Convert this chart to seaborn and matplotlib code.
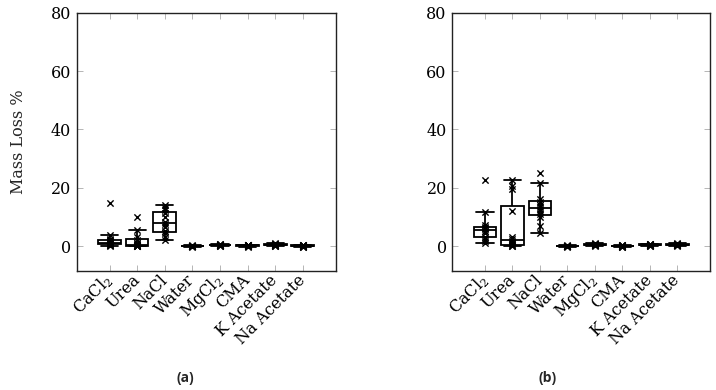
import numpy as np
import pandas as pd
import matplotlib
matplotlib.use("Agg")
import matplotlib.pyplot as plt
import seaborn as sns

categories = ["CaCl$_2$", "Urea", "NaCl", "Water", "MgCl$_2$", "CMA", "K Acetate", "Na Acetate"]
y_ticks = [0, 20, 40, 60, 80]
y_label = "Mass Loss %"
captions = ["(a)", "(b)"]

# panel (a) measured values
a_cacl2 = [0.0, 0.3, 0.4, 0.6, 0.9, 1.1, 1.3, 1.6, 2.0, 2.5, 3.9, 14.6]
a_urea = [0.0, 0.0, 0.0, 0.0, 0.2, 0.4, 0.6, 1.2, 2.2, 3.0, 5.6, 10.0]
a_nacl = [2.1, 3.0, 4.6, 5.0, 6.5, 7.6, 8.4, 9.8, 11.4, 12.2, 13.2, 13.9]
a_water = [-0.2, -0.1, -0.1, 0.0, 0.0, 0.0, 0.0, 0.0, 0.1, 0.1, 0.1, 0.2]
a_mgcl2 = [0.0, 0.1, 0.2, 0.2, 0.3, 0.3, 0.3, 0.4, 0.4, 0.5, 0.6, 0.7]
a_cma = [-0.2, -0.1, 0.0, 0.1, 0.1, 0.2, 0.2, 0.2, 0.3, 0.3, 0.4, 0.5]
a_kac = [0.0, 0.1, 0.2, 0.3, 0.3, 0.4, 0.4, 0.5, 0.5, 0.6, 0.7, 0.9]
a_naac = [-0.3, -0.2, -0.1, 0.0, 0.0, 0.1, 0.1, 0.1, 0.2, 0.2, 0.3, 0.4]

# panel (b) measured values
b_cacl2 = [1.2, 1.8, 2.4, 3.2, 4.5, 5.3, 5.7, 6.1, 6.4, 7.2, 11.6, 22.6]
b_urea = [0.0, 0.0, 0.2, 0.6, 1.0, 1.6, 2.4, 3.0, 12.0, 19.5, 20.5, 22.5]
b_nacl = [4.4, 7.0, 10.0, 10.9, 12.0, 12.8, 13.4, 14.2, 15.0, 16.2, 21.7, 24.9]
b_water = [-0.2, -0.1, -0.1, 0.0, 0.0, 0.0, 0.0, 0.0, 0.1, 0.1, 0.1, 0.2]
b_mgcl2 = [0.1, 0.2, 0.3, 0.4, 0.4, 0.5, 0.5, 0.6, 0.6, 0.7, 0.8, 1.0]
b_cma = [-0.3, -0.2, -0.1, -0.1, 0.0, 0.0, 0.0, 0.1, 0.1, 0.2, 0.2, 0.3]
b_kac = [0.0, 0.1, 0.2, 0.3, 0.3, 0.4, 0.4, 0.5, 0.5, 0.6, 0.7, 0.8]
b_naac = [0.1, 0.2, 0.3, 0.4, 0.4, 0.5, 0.5, 0.6, 0.6, 0.7, 0.8, 0.9]

panel_a = [a_cacl2, a_urea, a_nacl, a_water, a_mgcl2, a_cma, a_kac, a_naac]
panel_b = [b_cacl2, b_urea, b_nacl, b_water, b_mgcl2, b_cma, b_kac, b_naac]

BOX_W = 0.82
CAP_W = 0.62


def to_frame(panel):
    rows = []
    for cat, vals in zip(categories, panel):
        for v in vals:
            rows.append({"cat": cat, "val": v})
    return pd.DataFrame(rows)


sns.set_theme(style="white")
plt.rcParams["font.family"] = ["DejaVu Serif"]
plt.rcParams["mathtext.default"] = "regular"

fig = plt.figure(figsize=(7.16, 3.90), dpi=100)
ax_a = fig.add_axes([0.1071, 0.3056, 0.3617, 0.6618])
ax_b = fig.add_axes([0.6317, 0.3056, 0.3599, 0.6618])

for ax, panel in [(ax_a, panel_a), (ax_b, panel_b)]:
    df = to_frame(panel)
    sns.boxplot(data=df, x="cat", y="val", order=categories, ax=ax,
                color="white", linecolor="black", linewidth=1.3,
                width=BOX_W, showfliers=False, whis=1.5)
    # widen whisker caps
    for ln in ax.lines:
        xd = np.asarray(ln.get_xdata(), dtype=float)
        yd = np.asarray(ln.get_ydata(), dtype=float)
        if len(xd) == 2 and np.isclose(yd[0], yd[1]):
            span = abs(xd[1] - xd[0])
            if span < BOX_W * 0.9:
                c = xd.mean()
                ln.set_xdata([c - CAP_W / 2, c + CAP_W / 2])
    sns.stripplot(data=df, x="cat", y="val", order=categories, ax=ax,
                  color="black", marker="x", jitter=False, size=4.5,
                  linewidth=1.0)
    ax.set_xlim(-1.19, 8.19)
    ax.set_ylim(-8.5, 80)
    ax.set_yticks(y_ticks)
    ax.set_yticklabels([str(t) for t in y_ticks], fontsize=11.5)
    ax.set_xticks(range(len(categories)))
    ax.set_xticklabels(categories, fontsize=11.5, rotation=45,
                       ha="right", va="center", rotation_mode="anchor")
    ax.set_xlabel("")
    ax.set_ylabel("")
    ax.tick_params(direction="in", length=4, width=0.6, color="#aaaaaa",
                   top=True, right=True, bottom=True, left=True,
                   labelcolor="black")
    ax.tick_params(axis="x", pad=5)
    ax.tick_params(axis="y", pad=4)
    for sp in ax.spines.values():
        sp.set_visible(True)
        sp.set_color("#222222")
        sp.set_linewidth(1.0)
    ax.set_facecolor("white")

ax_a.set_ylabel(y_label, fontsize=11.5, labelpad=17)

fig.text(185 / 716, 1 - 378 / 390, captions[0], ha="center", va="center",
         fontsize=10, fontweight="bold", family=["Open Sans", "DejaVu Sans"])
fig.text(548 / 716, 1 - 378 / 390, captions[1], ha="center", va="center",
         fontsize=10, fontweight="bold", family=["Open Sans", "DejaVu Sans"])

fig.savefig("out.png", dpi=100, facecolor="white")
